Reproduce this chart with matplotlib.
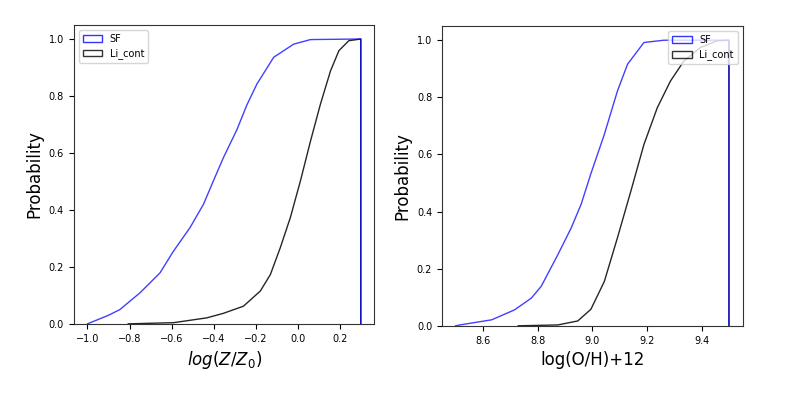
import numpy as np
import matplotlib.pyplot as plt
from matplotlib.patches import Patch

# cumulative distributions
z_sf = [-1.0, -0.9, -0.846, -0.75, -0.655, -0.591, -0.512, -0.448, -0.401,
        -0.353, -0.289, -0.242, -0.194, -0.114, -0.019, 0.061, 0.3]
p_z_sf = [0.0, 0.030, 0.050, 0.109, 0.179, 0.255, 0.338, 0.420, 0.502,
          0.584, 0.682, 0.768, 0.842, 0.936, 0.982, 0.998, 1.0]

z_li = [-0.806, -0.591, -0.432, -0.353, -0.258, -0.178, -0.130, -0.083,
        -0.035, 0.013, 0.061, 0.108, 0.156, 0.196, 0.243, 0.3]
p_z_li = [0.0, 0.004, 0.021, 0.037, 0.062, 0.115, 0.173, 0.267, 0.373,
          0.502, 0.642, 0.771, 0.888, 0.959, 0.994, 1.0]

oh_sf = [8.5, 8.522, 8.632, 8.716, 8.777, 8.813, 8.874, 8.923, 8.959, 8.995,
         9.044, 9.092, 9.129, 9.189, 9.262, 9.5]
p_oh_sf = [0.0, 0.004, 0.021, 0.056, 0.097, 0.138, 0.249, 0.343, 0.425,
           0.533, 0.670, 0.822, 0.916, 0.992, 1.0, 1.0]

oh_li = [8.729, 8.874, 8.947, 8.995, 9.044, 9.092, 9.141, 9.189, 9.238,
         9.286, 9.335, 9.395, 9.456, 9.5]
p_oh_li = [0.0, 0.003, 0.017, 0.058, 0.155, 0.308, 0.471, 0.635, 0.764,
           0.857, 0.927, 0.974, 0.998, 1.0]

labels = ['SF', 'Li_cont']
colors = ['blue', 'black']


def draw_cdf(ax, x, p, color, alpha=1.0):
    """step-histogram look: curve plus drop to zero at the last edge"""
    x = np.append(x, x[-1])
    p = np.append(p, 0.0)
    ax.plot(x, p, color=color, lw=1.0, alpha=alpha)


fig = plt.figure(figsize=(7.85, 3.93), dpi=100)
ax1 = fig.add_axes([0.094, 0.176, 0.383, 0.761])
ax2 = fig.add_axes([0.563, 0.171, 0.383, 0.763])

draw_cdf(ax1, z_li, p_z_li, colors[1], 0.85)
draw_cdf(ax1, z_sf, p_z_sf, colors[0], 0.75)
draw_cdf(ax2, oh_li, p_oh_li, colors[1], 0.85)
draw_cdf(ax2, oh_sf, p_oh_sf, colors[0], 0.75)

ax1.set_xlim(-1.065, 0.365)
ax2.set_xlim(8.45, 9.55)
ax1.set_xticks([-1.0, -0.8, -0.6, -0.4, -0.2, 0.0, 0.2])
ax2.set_xticks([8.6, 8.8, 9.0, 9.2, 9.4])

handles = [Patch(facecolor='none', edgecolor=c, label=l, alpha=0.8)
           for c, l in zip(colors, labels)]

for ax in (ax1, ax2):
    ax.set_ylim(0, 1.05)
    ax.set_ylabel('Probability', fontsize=12)
    ax.tick_params(labelsize=7)
    for s in ax.spines.values():
        s.set_color('#333333')

ax1.set_xlabel(r'$log(Z/Z_0)$', fontsize=12)
ax2.set_xlabel('log(O/H)+12', fontsize=12)
ax1.legend(handles=handles, loc='upper left', fontsize=7)
ax2.legend(handles=handles, loc='upper right', fontsize=7)

plt.savefig('out.png', dpi=100)
